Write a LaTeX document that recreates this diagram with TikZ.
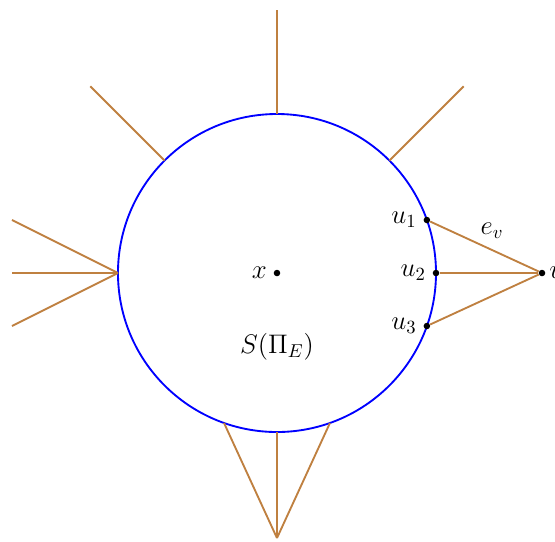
\documentclass[tikz,border=0pt]{standalone}
\usepackage{amsmath}
\usepackage{tikz}
\usetikzlibrary{positioning, calc}

\begin{document}
\begin{tikzpicture}[
  font=\Large,
  edge/.style={brown, line width=1pt},
  dot/.style={circle, fill=black, inner sep=0pt, minimum size=3.5pt},
]
\useasboundingbox (-5.226,-5.057) rectangle (5.245,5.151);

\draw[blue, line width=1pt] (0,0) circle (3);

\node[dot] (x) at (0,0) {};
\node[left=0pt of x] {$x$};
\node (S) at (0,-1.4) {$S(\Pi_E)$};

% points on the sphere
\coordinate (top) at (90:3);
\coordinate (tl) at (135:3);
\coordinate (tr) at (45:3);
\coordinate (lft) at (180:3);
\coordinate (bot) at (270:3);
\coordinate (bl) at ($(-1,-2.828)$);
\coordinate (br) at ($(1,-2.828)$);

\node[dot] (u1) at (2.828,1) {};
\node[dot] (u2) at (3,0) {};
\node[dot] (u3) at (2.828,-1) {};
\node[left=0pt of u1] {$u_1$};
\node[left=0pt of u2] {$u_2$};
\node[left=0pt of u3] {$u_3$};

\node[dot] (v) at (5,0) {};
\node[right=-1.5pt of v] {$v$};

% outer ends
\coordinate (topo) at (0,4.96);
\coordinate (tlo) at (135:4.98);
\coordinate (tro) at (45:4.98);
\coordinate (l1) at (-5,1);
\coordinate (l2) at (-5,0);
\coordinate (l3) at (-5,-1);
\coordinate (boto) at (0,-5);

\draw[edge] (top) -- (topo);
\draw[edge] (tl) -- (tlo);
\draw[edge] (tr) -- (tro);
\draw[edge] (lft) -- (l1);
\draw[edge] (lft) -- (l2);
\draw[edge] (lft) -- (l3);
\draw[edge] (boto) -- (bl);
\draw[edge] (boto) -- (bot);
\draw[edge] (boto) -- (br);
\draw[edge] (u1) -- node[black, above right=-2pt and 0pt, pos=0.4] (ev) {$e_v$} (v);
\draw[edge] (u2) -- (v);
\draw[edge] (u3) -- (v);

\end{tikzpicture}
\end{document}
